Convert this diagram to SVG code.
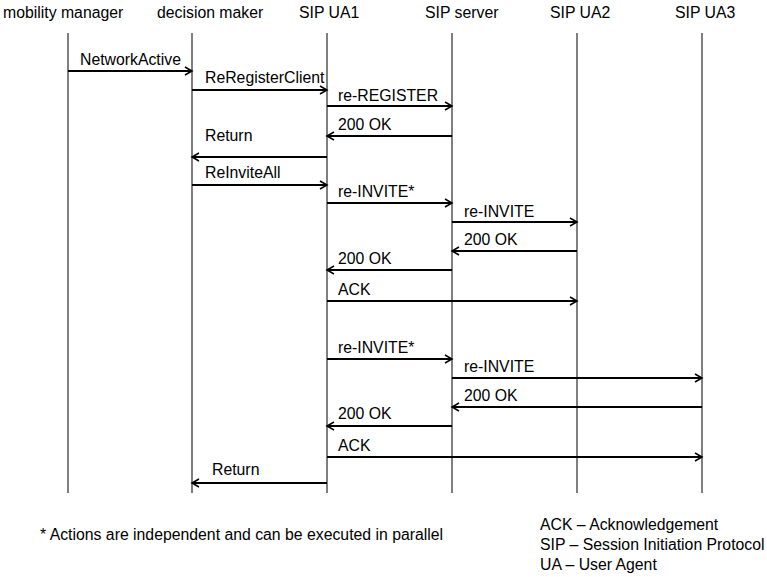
<svg xmlns="http://www.w3.org/2000/svg" width="767" height="577" viewBox="0 0 767 577">
  <style>
    text { font-family: "Liberation Sans", Arial, sans-serif; font-size: 15.8px; fill: #000; }
    .life { stroke: #555; stroke-width: 1.5; fill: none; }
    .msg { stroke: #000; stroke-width: 2; fill: none; marker-end: url(#head); }
  </style>
  <defs>
    <marker id="head" markerWidth="10" markerHeight="10" refX="8" refY="5" orient="auto" markerUnits="userSpaceOnUse">
      <path d="M1,1 L8,5 L1,9" fill="none" stroke="#000" stroke-width="1.5"/>
    </marker>
  </defs>
  <rect width="767" height="577" fill="#fff"/>

  <!-- participants with their lifelines -->
  <g id="mobility-manager">
    <text x="3" y="18">mobility manager</text>
    <line class="life" x1="68" y1="33" x2="68" y2="493"/>
  </g>
  <g id="decision-maker">
    <text x="157" y="18">decision maker</text>
    <line class="life" x1="192" y1="33" x2="192" y2="493"/>
  </g>
  <g id="sip-ua1">
    <text x="299" y="18">SIP UA1</text>
    <line class="life" x1="327" y1="33" x2="327" y2="493"/>
  </g>
  <g id="sip-server">
    <text x="425" y="18">SIP server</text>
    <line class="life" x1="452" y1="33" x2="452" y2="493"/>
  </g>
  <g id="sip-ua2">
    <text x="550" y="18">SIP UA2</text>
    <line class="life" x1="577" y1="33" x2="577" y2="493"/>
  </g>
  <g id="sip-ua3">
    <text x="675" y="18">SIP UA3</text>
    <line class="life" x1="702" y1="33" x2="702" y2="493"/>
  </g>

  <!-- messages -->
  <g id="messages">
    <line class="msg" x1="68" y1="71" x2="192" y2="71"/>
    <text x="80" y="65">NetworkActive</text>

    <line class="msg" x1="192" y1="90" x2="327" y2="90"/>
    <text x="205" y="83">ReRegisterClient</text>

    <line class="msg" x1="327" y1="106" x2="452" y2="106"/>
    <text x="338" y="101">re-REGISTER</text>

    <line class="msg" x1="452" y1="136" x2="327" y2="136"/>
    <text x="338" y="130">200 OK</text>

    <line class="msg" x1="327" y1="157" x2="192" y2="157"/>
    <text x="205" y="141">Return</text>

    <line class="msg" x1="192" y1="185" x2="327" y2="185"/>
    <text x="205" y="178">ReInviteAll</text>

    <line class="msg" x1="327" y1="203" x2="452" y2="203"/>
    <text x="338" y="197">re-INVITE*</text>

    <line class="msg" x1="452" y1="222" x2="577" y2="222"/>
    <text x="464" y="217">re-INVITE</text>

    <line class="msg" x1="577" y1="251" x2="452" y2="251"/>
    <text x="464" y="245">200 OK</text>

    <line class="msg" x1="452" y1="270" x2="327" y2="270"/>
    <text x="338" y="264">200 OK</text>

    <line class="msg" x1="327" y1="301" x2="577" y2="301"/>
    <text x="338" y="295">ACK</text>

    <line class="msg" x1="327" y1="359" x2="452" y2="359"/>
    <text x="338" y="353">re-INVITE*</text>

    <line class="msg" x1="452" y1="378" x2="702" y2="378"/>
    <text x="464" y="372">re-INVITE</text>

    <line class="msg" x1="702" y1="407" x2="452" y2="407"/>
    <text x="464" y="401">200 OK</text>

    <line class="msg" x1="452" y1="426" x2="327" y2="426"/>
    <text x="338" y="419">200 OK</text>

    <line class="msg" x1="327" y1="457" x2="702" y2="457"/>
    <text x="338" y="451">ACK</text>

    <line class="msg" x1="327" y1="483" x2="192" y2="483"/>
    <text x="212" y="475">Return</text>
  </g>

  <!-- notes -->
  <g id="footnote">
    <text x="40" y="540">* Actions are independent and can be executed in parallel</text>
  </g>
  <g id="legend">
    <text x="540" y="530">ACK – Acknowledgement</text>
    <text x="540" y="550">SIP – Session Initiation Protocol</text>
    <text x="540" y="570">UA – User Agent</text>
  </g>
</svg>
